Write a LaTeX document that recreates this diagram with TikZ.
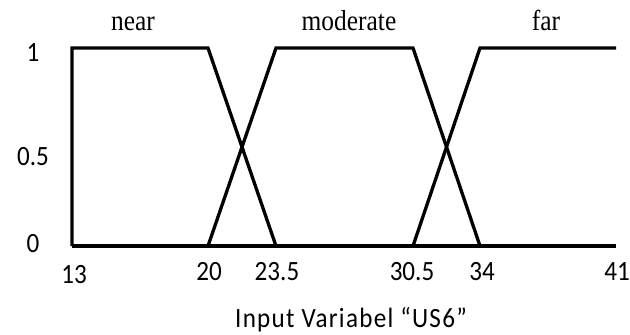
\documentclass[tikz,border=0pt]{standalone}
\usepackage{fontspec}
\setmainfont{Liberation Serif}[FakeStretch=0.88]
\newfontfamily\numfont{Carlito}[FakeStretch=0.9]
\newfontfamily\ttlfont{Carlito}[FakeStretch=0.9,LetterSpace=4.6]
\begin{document}
\begin{tikzpicture}[x=1bp,y=-1bp,
  mf/.style={line width=3.3bp, line join=miter},
  tick/.style={font=\numfont\fontsize{28}{32}\selectfont, inner sep=0pt, anchor=base},
  setlbl/.style={font=\fontsize{29}{33}\selectfont, inner sep=0pt, anchor=base}]
\useasboundingbox (0,0) rectangle (630,334);
% key points
\coordinate (a0) at (72,246);
\coordinate (a1) at (72,48);
\coordinate (b1) at (208,48);
\coordinate (b0) at (208,246);
\coordinate (c1) at (276,48);
\coordinate (c0) at (276,246);
\coordinate (d1) at (413,48);
\coordinate (d0) at (413,246);
\coordinate (e1) at (480,48);
\coordinate (e0) at (480,246);
\coordinate (f1) at (616,48);
\coordinate (f0) at (616,246);
% axis
\draw[mf] (a0) -- (f0);
% near
\draw[mf] (a0) -- (a1) -- (b1) -- (c0);
% moderate
\draw[mf] (b0) -- (c1) -- (d1) -- (e0);
% far
\draw[mf] (d0) -- (e1) -- (f1);
% y labels
\node[tick] (y1) at (33,61) {1};
\node[tick] (y05) at (33,165) {0.5};
\node[tick] (y0) at (33,252) {0};
% x labels
\node[tick] (x13) at (74,283) {13};
\node[tick] (x20) at (209,280) {20};
\node[tick] (x235) at (277,280) {23.5};
\node[tick] (x305) at (412,280) {30.5};
\node[tick] (x34) at (482,280) {34};
\node[tick] (x41) at (617,280) {41};
% set labels
\node[setlbl] (ln) at (133,30) {near};
\node[setlbl] (lm) at (349,30) {moderate};
\node[setlbl] (lf) at (546,30) {far};
% axis title
\node[tick, font=\ttlfont\fontsize{28}{32}\selectfont] (ttl) at (351,327) {Input Variabel “US6”};
\end{tikzpicture}
\end{document}
